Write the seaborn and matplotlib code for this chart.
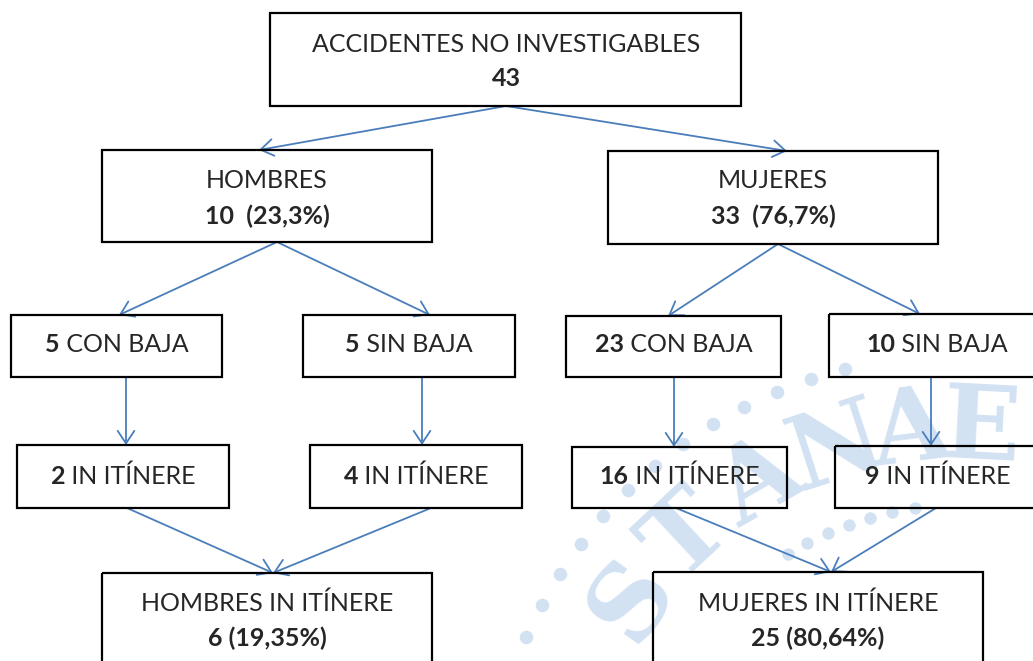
import matplotlib
matplotlib.use("Agg")
import matplotlib.pyplot as plt
import numpy as np
import seaborn as sns
from matplotlib.patches import Rectangle

# data
total_label = "ACCIDENTES NO INVESTIGABLES"
total = 43
sexes = ["HOMBRES", "MUJERES"]
sex_counts = [10, 33]
sex_pct = ["23,3%", "76,7%"]
con_baja = [5, 23]
sin_baja = [5, 10]
itinere_con = [2, 16]
itinere_sin = [4, 9]
itinere_total = [6, 25]
itinere_pct = ["19,35%", "80,64%"]

sns.set_theme(style="white")
plt.rcParams["font.family"] = ["Lato", "DejaVu Sans"]
arrow_col = "#4a7ebb"
wm_col = "#d2e2f3"

fig = plt.figure(figsize=(10.33, 6.61), dpi=100)
ax = fig.add_axes([0, 0, 1, 1])
ax.set_xlim(0, 1033)
ax.set_ylim(661, 0)
ax.axis("off")
renderer = fig.canvas.get_renderer()
FS = 18

# faint watermark (logo) in the lower right, letters on an arc with dots
wcx, wcy = 960, 830
for ch, ang in zip("STANAE", [215, 227, 240, 252, 263, 273]):
    a = np.radians(ang)
    ax.text(wcx + 400 * np.cos(a), wcy + 400 * np.sin(a), ch, fontsize=74,
            family="DejaVu Serif", fontweight="bold", color=wm_col,
            rotation=270 - ang, ha="center", va="center", zorder=0, clip_on=True)
t = np.radians(np.linspace(204, 256, 13))
ax.scatter(wcx + 475 * np.cos(t), wcy + 475 * np.sin(t), s=95, color=wm_col, lw=0, zorder=0)
t = np.radians(np.linspace(238, 262, 7))
ax.scatter(wcx + 325 * np.cos(t), wcy + 325 * np.sin(t), s=80, color=wm_col, lw=0, zorder=0)


def box(x0, y0, x1, y1):
    ax.add_patch(Rectangle((x0, y0), x1 - x0, y1 - y0, facecolor="none",
                           edgecolor="black", lw=1.6, zorder=3))


def mixed(xc, y, bold_part, normal_part):
    # bold number followed by normal text, centred as one line
    t1 = ax.text(0, y, bold_part, fontsize=FS, fontweight="bold", va="center")
    t2 = ax.text(0, y, " " + normal_part, fontsize=FS, va="center")
    w1 = t1.get_window_extent(renderer).width
    w2 = t2.get_window_extent(renderer).width
    left = xc - (w1 + w2) / 2
    t1.set_x(left)
    t2.set_x(left + w1)


def arrow(p0, p1):
    ax.annotate("", xy=p1, xytext=p0,
                arrowprops=dict(arrowstyle="->,head_length=0.75,head_width=0.5",
                                color=arrow_col, lw=1.3, shrinkA=0, shrinkB=0),
                zorder=2)


# top box
box(270, 13, 741, 106)
ax.text(506, 44, total_label, fontsize=FS, ha="center", va="center")
ax.text(506, 78, str(total), fontsize=FS, fontweight="bold", ha="center", va="center")

# layout per sex: sex box, con/sin baja boxes, in itinere boxes, summary box
sex_boxes = [(102, 150, 432, 242), (608, 151, 938, 244)]
con_boxes = [(11, 315, 222, 377), (566, 316, 781, 377)]
sin_boxes = [(303, 315, 515, 377), (829, 314, 1040, 377)]
itc_boxes = [(17, 445, 229, 508), (572, 447, 787, 508)]
its_boxes = [(310, 445, 522, 508), (835, 446, 1040, 508)]
sum_boxes = [(102, 573, 432, 668), (653, 572, 983, 668)]
sex_tops = [259, 787]
sex_bottoms = [277, 778]
con_x = [126, 674]
sin_x = [422, 931]
con_arrow_end = [119, 668]
sin_arrow_end = [430, 920]
itc_x = [127, 676]
its_x = [431, 936]
sum_tip = [273, 831]

for i in range(2):
    sb = sex_boxes[i]
    box(*sb)
    cx = (sb[0] + sb[2]) / 2
    ax.text(cx, 181, sexes[i], fontsize=FS, ha="center", va="center")
    ax.text(cx, 216, f"{sex_counts[i]}  ({sex_pct[i]})", fontsize=FS,
            fontweight="bold", ha="center", va="center")
    arrow((506, 106), (sex_tops[i], sb[1]))

    cb = con_boxes[i]
    box(*cb)
    mixed((cb[0] + cb[2]) / 2, 345, str(con_baja[i]), "CON BAJA")
    sib = sin_boxes[i]
    box(*sib)
    mixed((sib[0] + min(sib[2], 1033)) / 2 + (6 if i else 0), 345, str(sin_baja[i]), "SIN BAJA")
    arrow((sex_bottoms[i], sb[3]), (con_arrow_end[i], cb[1]))
    arrow((sex_bottoms[i], sb[3]), (sin_arrow_end[i], sib[1]))

    icb = itc_boxes[i]
    box(*icb)
    mixed((icb[0] + icb[2]) / 2, 476, str(itinere_con[i]), "IN ITÍNERE")
    isb = its_boxes[i]
    box(*isb)
    mixed((isb[0] + min(isb[2], 1033)) / 2 + (4 if i else 0), 476, str(itinere_sin[i]), "IN ITÍNERE")
    arrow((con_x[i], cb[3]), (con_x[i], icb[1]))
    arrow((sin_x[i], sib[3]), (sin_x[i], isb[1]))

    smb = sum_boxes[i]
    box(*smb)
    scx = (smb[0] + smb[2]) / 2
    ax.text(scx, 603, f"{sexes[i]} IN ITÍNERE", fontsize=FS, ha="center", va="center")
    ax.text(scx, 638, f"{itinere_total[i]} ({itinere_pct[i]})", fontsize=FS,
            fontweight="bold", ha="center", va="center")
    arrow((itc_x[i], icb[3]), (sum_tip[i], smb[1]))
    arrow((its_x[i], isb[3]), (sum_tip[i], smb[1]))

fig.savefig("out.png", dpi=100, facecolor="white")
